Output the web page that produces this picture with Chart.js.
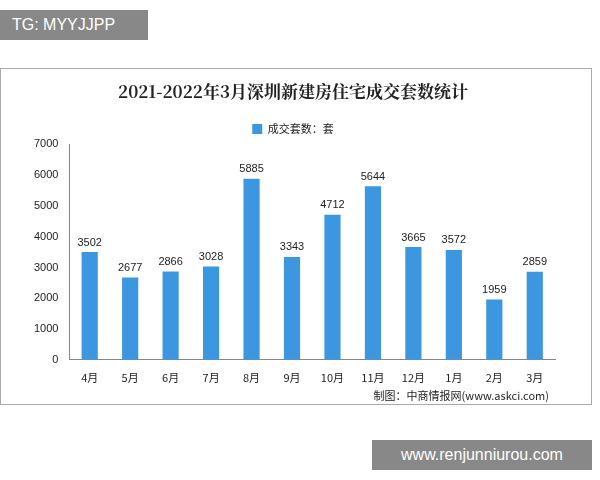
<!DOCTYPE html>
<html><head><meta charset="utf-8">
<script src="https://cdn.jsdelivr.net/npm/chart.js@4"></script>
<style>
body{margin:0;width:600px;height:480px;background:#fff;position:relative;font-family:"Noto Sans CJK SC",sans-serif;overflow:hidden}
#box{position:absolute;left:0;top:68px;width:592px;height:337px;border:1px solid #aaa;box-sizing:border-box}
#wrap{position:absolute;left:0;top:0;width:590px;height:335px}
#foot{position:absolute;right:42px;top:318px;font-size:11px;color:#222}
#tg{position:absolute;left:0;top:10px;width:148px;height:30px;background:#888;color:#fff;font:16px "Liberation Sans",sans-serif;line-height:30px;padding-left:12px;box-sizing:border-box}
#url{position:absolute;left:372px;top:440px;width:220px;height:30px;background:#888;color:#fff;font:16px "Liberation Sans",sans-serif;line-height:30px;text-align:center}
</style></head><body>
<div id="tg">TG: MYYJJPP</div>
<div id="box"><div id="wrap"><canvas id="c"></canvas></div><div id="foot">制图：中商情报网(www.askci.com)</div></div>
<div id="url">www.renjunniurou.com</div>
<script>
const categories=["4月","5月","6月","7月","8月","9月","10月","11月","12月","1月","2月","3月"];
const values=[3502,2677,2866,3028,5885,3343,4712,5644,3665,3572,1959,2859];
const yTicks=[0,1000,2000,3000,4000,5000,6000,7000];
const labelsPlugin={id:'vl',afterDatasetsDraw(ch){const ctx=ch.ctx;const m=ch.getDatasetMeta(0);ctx.save();ctx.font='11px "Liberation Sans",sans-serif';ctx.fillStyle='#222';ctx.textAlign='center';ctx.textBaseline='bottom';m.data.forEach((b,i)=>ctx.fillText(values[i],b.x,b.y-4));ctx.restore();}};
new Chart(document.getElementById('c'),{type:'bar',data:{labels:categories,datasets:[{label:'成交套数：套',data:values,backgroundColor:'#3d97e0',barPercentage:0.4,categoryPercentage:1}]},
options:{responsive:true,maintainAspectRatio:false,animation:false,
layout:{padding:{left:30,right:36,top:8,bottom:17}},
plugins:{title:{display:true,text:'2021-2022年3月深圳新建房住宅成交套数统计',font:{size:17,weight:'bold',family:'"Noto Serif CJK SC","Noto Sans CJK SC",serif'},color:'#222',padding:{top:4,bottom:8}},
legend:{labels:{padding:14,boxWidth:10,boxHeight:10,font:{size:11,family:'"Noto Sans CJK SC"'},color:'#222'}},tooltip:{enabled:false}},
scales:{x:{grid:{display:false},border:{color:'#888'},ticks:{color:'#222',font:{size:11,family:'"Noto Sans CJK SC"'}}},
y:{min:0,max:7000,afterBuildTicks(a){a.ticks=yTicks.map(v=>({value:v}))},grid:{display:false},border:{color:'#888'},ticks:{color:'#222',font:{size:11,family:'"Liberation Sans"'},callback:v=>String(v)}}}},
plugins:[labelsPlugin]});
</script></body></html>
